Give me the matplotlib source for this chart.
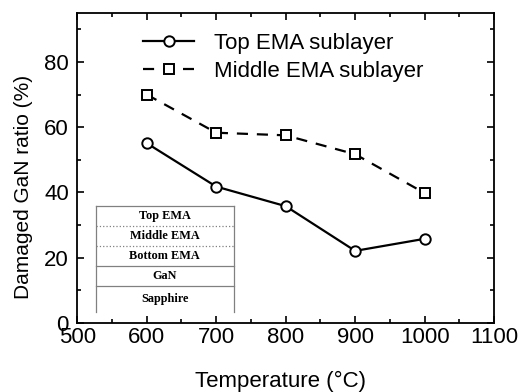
import matplotlib
matplotlib.use("Agg")
import matplotlib.pyplot as plt
from matplotlib.ticker import MultipleLocator

plt.rcParams['font.family'] = ['Liberation Sans', 'DejaVu Sans']

temps = [600, 700, 800, 900, 1000]
top_ema = [55.1, 41.8, 35.8, 22.1, 25.8]
middle_ema = [70.0, 58.3, 57.5, 51.7, 39.8]
layers = ["Top EMA", "Middle EMA", "Bottom EMA", "GaN", "Sapphire"]

fig = plt.figure(figsize=(5.18, 3.92), dpi=100)
ax = fig.add_axes([0.149, 0.176, 0.805, 0.791])

ax.plot(temps, top_ema, '-', color='black', lw=1.6, marker='o', ms=7.5,
        mfc='white', mec='black', mew=1.4, label='Top EMA sublayer')
ax.plot(temps, middle_ema, '--', color='black', lw=1.6, marker='s', ms=7,
        mfc='white', mec='black', mew=1.4, dashes=(5, 4),
        label='Middle EMA sublayer')

ax.set_xlim(500, 1100)
ax.set_ylim(0, 95)
ax.xaxis.set_major_locator(MultipleLocator(100))
ax.xaxis.set_minor_locator(MultipleLocator(50))
ax.yaxis.set_major_locator(MultipleLocator(20))
ax.yaxis.set_minor_locator(MultipleLocator(10))
ax.tick_params(which='both', direction='in', top=True, right=True,
               labelsize=16, width=1.2)
ax.tick_params(axis='x', pad=3)
ax.tick_params(axis='y', pad=6)
ax.tick_params(which='major', length=5)
ax.tick_params(which='minor', length=3)
for s in ax.spines.values():
    s.set_linewidth(1.3)

ax.set_xlabel('Temperature (\u00b0C)', fontsize=16, labelpad=16)
ax.set_ylabel('Damaged GaN ratio (%)', fontsize=15, labelpad=8)
ax.xaxis.label.set_x(0.487)
ax.yaxis.label.set_y(0.44)

ax.legend(loc='upper left', bbox_to_anchor=(0.11, 1.0), frameon=False,
          fontsize=16, handlelength=2.3, handletextpad=0.9,
          labelspacing=0.32)

# layer stack sketch in the lower left corner
x0, x1 = 0.045, 0.375
edges = [0.378, 0.312, 0.248, 0.183, 0.118, 0.034]
gray = '#808080'
ax.plot([x0, x1], [edges[0], edges[0]], color=gray, lw=0.9, transform=ax.transAxes)
ax.plot([x0, x0], [edges[0], edges[-1]], color=gray, lw=0.9, transform=ax.transAxes)
ax.plot([x1, x1], [edges[0], edges[-1]], color=gray, lw=0.9, transform=ax.transAxes)
for i, name in enumerate(layers):
    ax.text((x0 + x1) / 2, (edges[i] + edges[i + 1]) / 2, name,
            transform=ax.transAxes, ha='center', va='center',
            family='Liberation Serif', fontweight='bold', fontsize=8.8)
    if i < len(layers) - 1:
        ls = ':' if i < 2 else '-'
        ax.plot([x0, x1], [edges[i + 1], edges[i + 1]], color=gray, lw=0.9,
                ls=ls, transform=ax.transAxes)

fig.savefig('out.png', dpi=100)
